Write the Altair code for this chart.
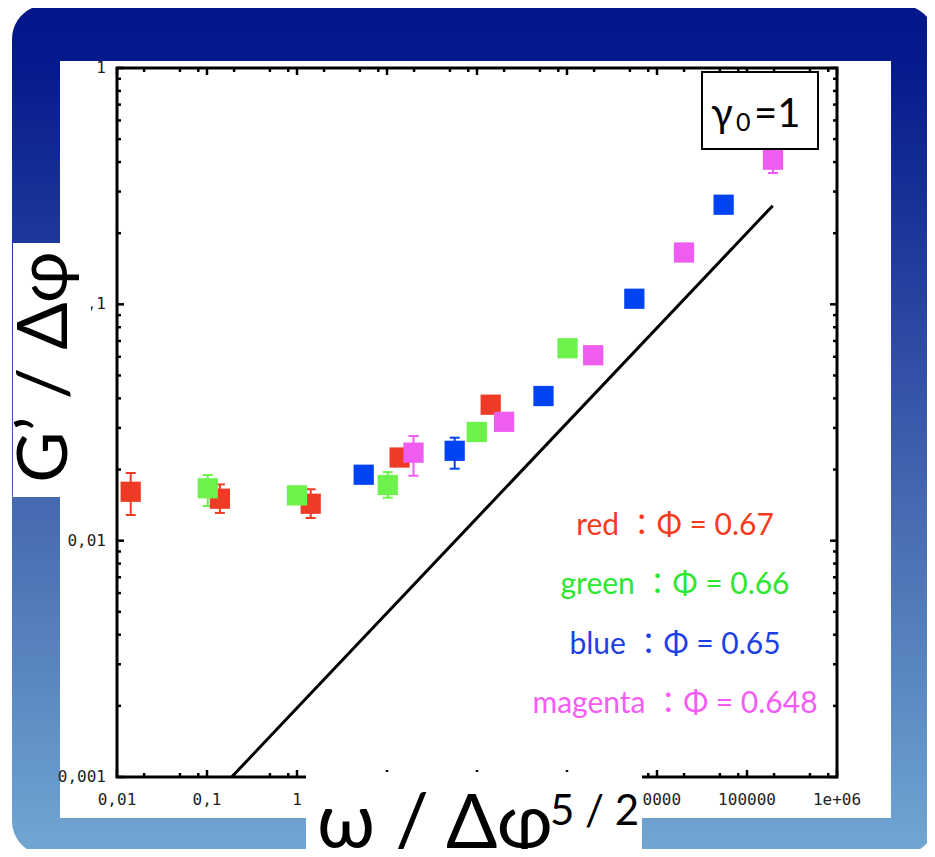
import altair as alt
import pandas as pd

# ---------------- data ----------------
series = ["red", "green", "blue", "magenta"]
series_colors = ["#ee3b26", "#6cf24b", "#0043f2", "#ee5cf0"]
text_colors = ["#f83a1c", "#2ee62e", "#1f3fe6", "#f55cf5"]
phi_labels = ["0.67", "0.66", "0.65", "0.648"]

red_x = [0.0142, 0.139, 1.42, 13.8, 142]
red_y = [0.0161, 0.01505, 0.01433, 0.02248, 0.03761]
green_x = [0.102, 1.0, 10.2, 99.5, 1013]
green_y = [0.01666, 0.01555, 0.0172, 0.02883, 0.0652]
blue_x = [5.51, 56.5, 548, 5600, 55000]
blue_y = [0.01901, 0.0240, 0.04093, 0.1056, 0.2639]
magenta_x = [19.7, 200, 1954, 19950, 194500]
magenta_y = [0.02357, 0.03184, 0.0609, 0.1657, 0.4092]

# error bars
err_series = ["red", "red", "red", "green", "green", "blue", "magenta", "magenta"]
err_x = [0.0142, 0.139, 1.42, 0.102, 10.2, 56.5, 19.7, 194500]
err_lo = [0.01284, 0.0131, 0.01247, 0.01402, 0.0152, 0.02016, 0.01883, 0.3594]
err_hi = [0.01933, 0.0173, 0.0165, 0.01896, 0.0195, 0.02727, 0.02773, 0.46]

# power-law guide line
line_x = [0.188, 193000]
line_y = [0.001, 0.2614]

x_ticks = [0.01, 0.1, 1, 10, 100, 1000, 10000, 100000, 1000000]
x_tick_labels = ["0,01", "0,1", "1", "10", "100", "1000", "10000", "100000", "1e+06"]
y_ticks = [0.001, 0.01, 0.1, 1]
y_tick_labels = ["0,001", "0,01", "0,1", "1"]
x_minor_mult = [2, 5, 8]
y_minor_mult = [2, 3, 4, 5, 6, 7, 8, 9]

# ---------------- build ----------------
W, H = 720, 709
xs = alt.Scale(type="log", domain=[0.01, 1000000], nice=False)
ys = alt.Scale(type="log", domain=[0.001, 1], nice=False)
cs = alt.Scale(domain=series, range=series_colors)

pts = pd.DataFrame({
    "series": sum([[s] * 5 for s in series], []),
    "x": red_x + green_x + blue_x + magenta_x,
    "y": red_y + green_y + blue_y + magenta_y,
})
err = pd.DataFrame({"series": err_series, "x": err_x, "lo": err_lo, "hi": err_hi})
line_df = pd.DataFrame({"x": line_x, "y": line_y})
xmaj = pd.DataFrame({"v": x_ticks, "label": x_tick_labels})
ymaj = pd.DataFrame({"v": y_ticks, "label": y_tick_labels})
xmin = pd.DataFrame({"v": [d * m for d in x_ticks[:-1] for m in x_minor_mult]})
ymin = pd.DataFrame({"v": [d * m for d in y_ticks[:-1] for m in y_minor_mult]})
dummy = pd.DataFrame({"a": [0]})

X = lambda f: alt.X(f, scale=xs, axis=None)
Y = lambda f: alt.Y(f, scale=ys, axis=None)

grad = alt.Gradient(
    gradient="linear", x1=0, x2=0, y1=0, y2=1,
    stops=[
        alt.GradientStop(color="#03168a", offset=0),
        alt.GradientStop(color="#051a8c", offset=0.07),
        alt.GradientStop(color="#1e389c", offset=0.28),
        alt.GradientStop(color="#4568b0", offset=0.58),
        alt.GradientStop(color="#5d8bc3", offset=0.82),
        alt.GradientStop(color="#72a7d3", offset=1),
    ],
)

def box(x1, x2, y1, y2, **kw):
    return alt.Chart(dummy).mark_rect(**kw).encode(
        x=alt.value(x1), x2=alt.value(x2), y=alt.value(y1), y2=alt.value(y2))

def txt(s, x, y, **kw):
    return alt.Chart(dummy).mark_text(**kw).encode(
        x=alt.value(x), y=alt.value(y), text=alt.value(s))

layers = []
layers.append(box(-105, 818, -63, 787, fill=grad, cornerRadius=34))
layers.append(box(-57, 774, -7, 750, fill="white"))

tick_style = dict(color="black", strokeWidth=2.5)
layers.append(alt.Chart(xmaj).mark_rule(**tick_style).encode(x=X("v:Q"), y=alt.value(H), y2=alt.value(H - 7)))
layers.append(alt.Chart(xmaj).mark_rule(**tick_style).encode(x=X("v:Q"), y=alt.value(0), y2=alt.value(7)))
layers.append(alt.Chart(xmin).mark_rule(**tick_style).encode(x=X("v:Q"), y=alt.value(H), y2=alt.value(H - 4)))
layers.append(alt.Chart(xmin).mark_rule(**tick_style).encode(x=X("v:Q"), y=alt.value(0), y2=alt.value(4)))
layers.append(alt.Chart(ymaj).mark_rule(**tick_style).encode(y=Y("v:Q"), x=alt.value(0), x2=alt.value(7)))
layers.append(alt.Chart(ymaj).mark_rule(**tick_style).encode(y=Y("v:Q"), x=alt.value(W), x2=alt.value(W - 7)))
layers.append(alt.Chart(ymin).mark_rule(**tick_style).encode(y=Y("v:Q"), x=alt.value(0), x2=alt.value(4)))
layers.append(alt.Chart(ymin).mark_rule(**tick_style).encode(y=Y("v:Q"), x=alt.value(W), x2=alt.value(W - 4)))
layers.append(box(0, W, 0, H, fill="transparent", stroke="black", strokeWidth=3))

lab_style = dict(font="DejaVu Sans Mono", fontSize=16, color="#222")
layers.append(alt.Chart(xmaj).mark_text(align="center", baseline="middle", **lab_style).encode(
    x=X("v:Q"), y=alt.value(732), text="label:N"))
layers.append(alt.Chart(ymaj).mark_text(align="right", baseline="middle", **lab_style).encode(
    y=Y("v:Q"), x=alt.value(-11), text="label:N"))

layers.append(alt.Chart(line_df).mark_line(color="black", strokeWidth=3).encode(x=X("x:Q"), y=Y("y:Q")))

col = alt.Color("series:N", scale=cs, legend=None)
layers.append(alt.Chart(err).mark_rule(strokeWidth=2).encode(x=X("x:Q"), y=Y("lo:Q"), y2="hi:Q", color=col))
layers.append(alt.Chart(err).mark_tick(orient="horizontal", size=10, thickness=2, opacity=1).encode(x=X("x:Q"), y=Y("lo:Q"), color=col))
layers.append(alt.Chart(err).mark_tick(orient="horizontal", size=10, thickness=2, opacity=1).encode(x=X("x:Q"), y=Y("hi:Q"), color=col))
layers.append(alt.Chart(pts).mark_square(size=410, opacity=1).encode(x=X("x:Q"), y=Y("y:Q"), color=col))

# gamma box
layers.append(box(585, 701, 4, 81, fill="white", stroke="black", strokeWidth=2))
FONT = "Lato, 'Open Sans', 'Noto Sans CJK JP'"
layers.append(txt("γ", 594, 59, font=FONT, fontSize=40, align="left", baseline="alphabetic", color="black"))
layers.append(txt("0", 619, 63, font=FONT, fontSize=25, align="left", baseline="alphabetic", color="black"))
layers.append(txt("=1", 637, 59, font=FONT, fontSize=40, align="left", baseline="alphabetic", color="black"))

# annotations
for i, (s, c, p) in enumerate(zip(series, text_colors, phi_labels)):
    layers.append(txt(f"{s} ：Φ = {p}", 558, 467 + i * 59.3, font=FONT, fontSize=30,
                      align="center", baseline="alphabetic", color=c))

# axis title boxes
layers.append(box(-104, -26, 175, 429, fill="white"))
layers.append(box(189, 525, 704, 800, fill="white"))
layers.append(txt("G’ / Δφ", -50, 299, font=FONT, fontSize=70, angle=270,
                  align="center", baseline="alphabetic", color="black"))
layers.append(txt("ω / Δφ", 200, 780, font=FONT, fontSize=76, align="left",
                  baseline="alphabetic", color="black"))
layers.append(txt("5 / 2", 433, 757, font=FONT, fontSize=42, align="left",
                  baseline="alphabetic", color="black"))

chart = alt.layer(*layers).properties(
    width=W, height=H,
    padding={"left": 109, "top": 60, "right": 90, "bottom": 72},
    autosize=alt.AutoSizeParams(type="none"),
).configure_view(stroke=None)

chart.save("out.html", embed_options={"renderer": "svg", "actions": False})
